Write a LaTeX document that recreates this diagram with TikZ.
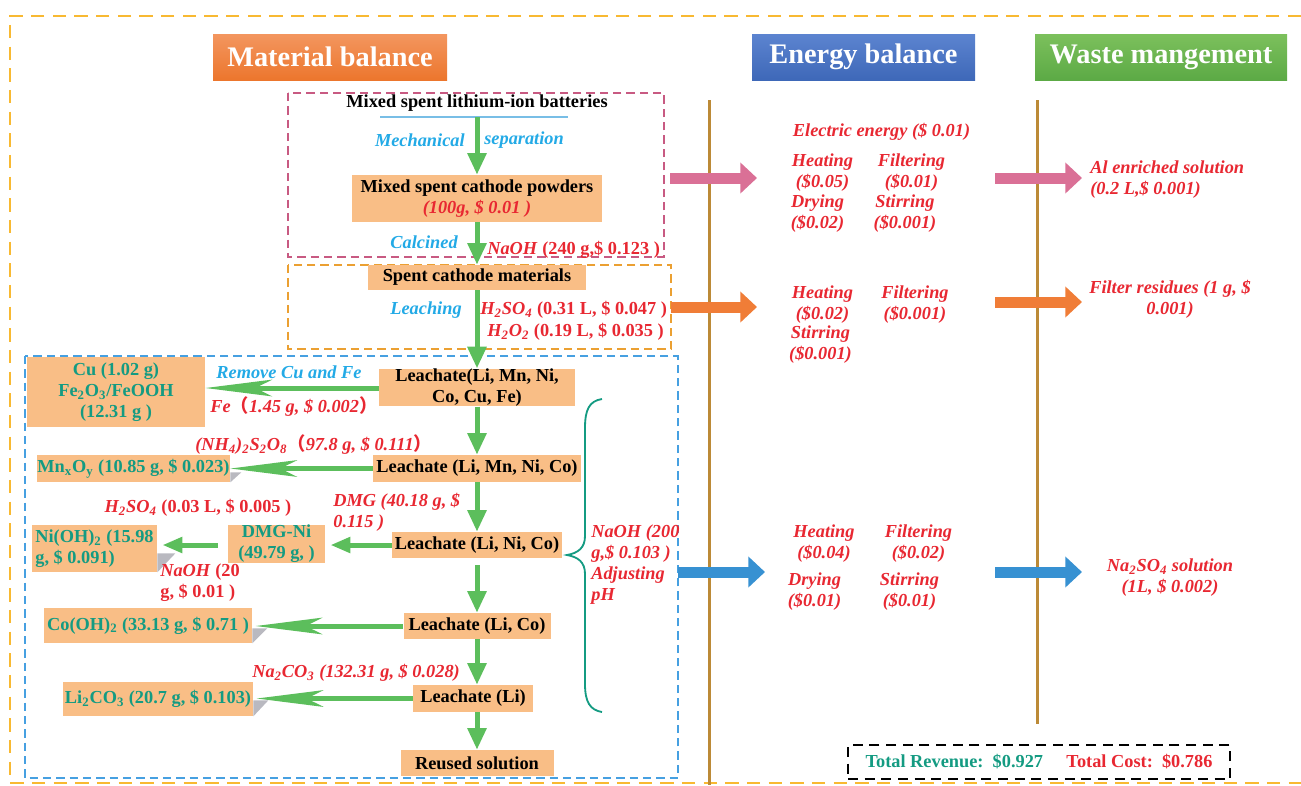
\documentclass[tikz,border=0pt]{standalone}
\usepackage{fontspec}
\setmainfont{Liberation Serif}
\newfontfamily\cjk{Noto Sans CJK SC}
\usetikzlibrary{arrows.meta}
\definecolor{boxfill}{RGB}{249,190,134}
\definecolor{tealtxt}{RGB}{20,155,130}
\definecolor{redtxt}{RGB}{232,40,50}
\definecolor{bluetxt}{RGB}{35,170,230}
\definecolor{greenarr}{RGB}{92,190,92}
\definecolor{pinkfr}{RGB}{200,90,130}
\definecolor{pinkarr}{RGB}{218,112,150}
\definecolor{orfr}{RGB}{235,160,50}
\definecolor{orarr}{RGB}{240,125,55}
\definecolor{blfr}{RGB}{70,160,225}
\definecolor{blarr}{RGB}{55,145,210}
\definecolor{outerfr}{RGB}{248,185,50}
\definecolor{sepcol}{RGB}{188,138,55}
\definecolor{shadowgray}{RGB}{185,185,192}
\definecolor{ulblue}{RGB}{120,190,230}
\newcommand{\chsub}[1]{\textsubscript{#1}}
\newcommand{\lp}{{\cjk （}}
\newcommand{\rp}{{\cjk ）}}
\tikzset{
  >=latex,
  blk/.style={fill=boxfill,inner sep=0pt,align=center},
  res/.style={fill=boxfill,text=tealtxt,inner sep=0pt,align=center},
  redlbl/.style={text=redtxt,inner sep=0pt,align=center},
  reditl/.style={text=redtxt,font=\itshape,inner sep=0pt,align=center},
  bluelbl/.style={text=bluetxt,font=\itshape,inner sep=0pt},
  flow/.style={draw=greenarr,line width=3pt,-{Triangle[length=13pt,width=11pt]}},
  side/.style={draw=greenarr,line width=3pt,-{Stealth[length=40pt,width=10pt,inset=10pt]}},
  short/.style={draw=greenarr,line width=3pt,-{Triangle[length=12pt,width=9pt]}},
  blockarr/.style={line width=6.6pt,-{Triangle[length=10pt,width=18pt]}},
  frame/.style={line width=1pt,dash pattern=on 5pt off 3pt},
  title/.style={text=white,inner sep=0pt,font=\fontsize{17}{20}\selectfont,minimum height=27.6pt}
}

\begin{document}
\fontsize{11}{12.6}\selectfont\bfseries
\begin{tikzpicture}[x=0.6pt,y=-0.6pt]
\useasboundingbox (0,0) rectangle (1301,785);
\draw[outerfr,line width=1.4pt,dash pattern=on 8pt off 5pt] (1301,16) -- (10,16) -- (10,783) -- (1301,783);
\draw[frame,pinkfr] (288,93) rectangle (664,257);
\draw[frame,orfr] (288,265) rectangle (671,349);
\draw[frame,blfr] (25,356) rectangle (678,778);
\draw[sepcol,line width=1.8pt] (709,100) -- (709,785);
\draw[sepcol,line width=1.8pt] (1037,100) -- (1037,724);

% headings
\node[title,minimum width=140.4pt,top color={rgb,255:red,243;green,150;blue,95},bottom color={rgb,255:red,236;green,118;blue,45}] (tmat) at (330,57) {Material balance};
\node[title,minimum width=133.8pt,top color={rgb,255:red,92;green,132;blue,208},bottom color={rgb,255:red,62;green,104;blue,184}] (tene) at (863.5,57) {Energy balance};
\node[title,minimum width=151.2pt,top color={rgb,255:red,124;green,192;blue,92},bottom color={rgb,255:red,92;green,170;blue,69}] (twaste) at (1161,57) {Waste mangement};

% pretreatment
\node[inner sep=0pt] (batt) at (477,103) {Mixed spent lithium-ion batteries};
\draw[ulblue,line width=0.8pt] (380,117) -- (568,117);
\coordinate (battline) at (477,117);
\node[blk,minimum width=150pt,minimum height=28.2pt] (powders) at (477,198.5) {Mixed spent cathode powders\\{\color{redtxt}\itshape (100g, \$ 0.01 )}};
\draw[flow] (battline) -- (powders);
\node[bluelbl,anchor=east] (mech) at (465,140) {Mechanical};
\node[bluelbl,anchor=west] (separ) at (484,140) {separation};

\node[blk,minimum width=130.8pt,minimum height=15pt] (spentcm) at (477,277.5) {Spent cathode materials};
\draw[flow] (powders) -- (spentcm);
\node[bluelbl,anchor=east] (calc) at (458,242) {Calcined};
\node[redlbl,anchor=west] (naoha) at (487,250) {\textit{NaOH} (240 g,\$ 0.123 )};

\node[bluelbl,anchor=east] (leaching) at (462,310) {Leaching};
\node[redlbl,anchor=west] (acida) at (480,310) {\textit{H\chsub{2}SO\chsub{4}} (0.31 L, \$ 0.047 )};
\node[redlbl,anchor=west] (perox) at (487,332) {\textit{H\chsub{2}O\chsub{2}} (0.19 L, \$ 0.035 )};

% separation chain
\node[blk,minimum width=117.6pt,minimum height=19.8pt] (leacha) at (477,387.5) {Leachate(Li, Mn, Ni,\\Co, Cu, Fe)};
\node[blk,minimum width=124.8pt,minimum height=16.2pt] (leachb) at (477,468.5) {Leachate (Li, Mn, Ni, Co)};
\node[blk,minimum width=102pt,minimum height=15.6pt] (leachc) at (477,545) {Leachate (Li, Ni, Co)};
\node[blk,minimum width=88.2pt,minimum height=15.6pt] (leachd) at (477,626) {Leachate (Li, Co)};
\node[blk,minimum width=72pt,minimum height=16.2pt] (leache) at (473,698.5) {Leachate (Li)};
\node[blk,minimum width=91.8pt,minimum height=15.6pt] (reused) at (477,763) {Reused solution};
\draw[flow] (spentcm) -- (leacha);
\draw[flow] (leacha) -- (leachb);
\draw[flow] (leachb) -- (leachc);
\draw[flow,shorten <=4pt] (leachc) -- (leachd);
\draw[flow] (leachd.south) -- (leachd.south |- leache.north);
\draw[flow] (leachd.south |- leache.south) -- (leachd.south |- reused.north);

\node[res,minimum width=106.8pt,minimum height=42pt] (cufe) at (116,392) {Cu (1.02 g)\\Fe\chsub{2}O\chsub{3}/FeOOH\\(12.31 g )};
\node[res,minimum width=115.8pt,minimum height=16.2pt] (mnxoy) at (133.5,468.5) {Mn\chsub{x}O\chsub{y} (10.85 g, \$ 0.023)};
\node[res,minimum width=58.2pt,minimum height=22.8pt] (dmgni) at (276.5,544) {DMG-Ni\\(49.79 g, )};
\node[res,align=left,minimum width=75pt,minimum height=28.2pt] (nioh) at (94.5,548.5) {Ni(OH)\chsub{2} (15.98\\g, \$ 0.091)};
\node[res,minimum width=124.8pt,minimum height=21pt] (cooh) at (148,625.5) {Co(OH)\chsub{2} (33.13 g, \$ 0.71 )};
\node[res,minimum width=114pt,minimum height=20.4pt] (lico) at (158,699) {Li\chsub{2}CO\chsub{3} (20.7 g, \$ 0.103)};
\fill[shadowgray] (mnxoy.south east) -- ++(0,-10) -- ++(11,0) -- cycle;
\fill[shadowgray] (nioh.south east) -- ++(0,-19) -- ++(18,0) -- cycle;
\fill[shadowgray] (cooh.south east) -- ++(0,-15) -- ++(15,0) -- cycle;
\fill[shadowgray] (lico.south east) -- ++(0,-16) -- ++(15,0) -- cycle;

\draw[side] (leacha.west |- 0,388) -- (cufe.east |- 0,388);
\draw[side] (leachb.west) -- (leachb.west -| mnxoy.east);
\draw[short,shorten >=3pt] (leachc.west) -- (leachc.west -| dmgni.east);
\draw[short,shorten <=6pt,shorten >=3pt] (dmgni.west |- leachc.west) -- (nioh.east |- leachc.west);
\draw[side,shorten >=2pt] (leachd.west) -- (leachd.west -| cooh.east);
\draw[side,shorten >=2pt] (leache.west) -- (leache.west -| lico.east);

\node[bluelbl] (rmv) at (289,372) {Remove Cu and Fe};
\node[reditl,anchor=west] (fe) at (210,407) {Fe\lp 1.45 g, \$ 0.002\rp};
\node[reditl,anchor=west] (persulf) at (195,445) {(NH\chsub{4})\chsub{2}S\chsub{2}O\chsub{8}\lp 97.8 g, \$ 0.111\rp};
\node[reditl,align=left,anchor=west] (dmg) at (333,512) {DMG (40.18 g, \$\\0.115 )};
\node[redlbl] (acidb) at (198,508) {\textit{H\chsub{2}SO\chsub{4}} (0.03 L, \$ 0.005 )};
\node[redlbl,align=left,anchor=west] (naohb) at (160,583) {\textit{NaOH} (20\\g, \$ 0.01 )};
\node[reditl,anchor=west] (carb) at (252,673) {Na\chsub{2}CO\chsub{3} (132.31 g, \$ 0.028)};

% pH brace
\draw[tealtxt,line width=1.1pt] (602,399) .. controls (589,401) and (585,410) .. (585,428) -- (585,536) .. controls (585,548) and (578,553) .. (567,555) .. controls (578,557) and (585,562) .. (585,574) -- (585,684) .. controls (585,702) and (590,710) .. (602,712);
\node[reditl,align=left,anchor=west] (naohc) at (591,565) {NaOH (200\\g,\$ 0.103 )\\Adjusting\\pH};

% energy balance
\coordinate (pinka) at (670,178);
\coordinate (pinkb) at (757,178);
\coordinate (pinkc) at (995,178);
\coordinate (pinkd) at (1082,178);
\coordinate (ora) at (671,307);
\coordinate (orb) at (757,307);
\coordinate (orc) at (995,302);
\coordinate (ord) at (1082,302);
\coordinate (bla) at (678,572);
\coordinate (blb) at (765,572);
\coordinate (blc) at (995,572);
\coordinate (bld) at (1082,572);
\draw[blockarr,pinkarr] (pinka) -- (pinkb);
\draw[blockarr,pinkarr] (pinkc) -- (pinkd);
\draw[blockarr,orarr] (ora) -- (orb);
\draw[blockarr,orarr] (orc) -- (ord);
\draw[blockarr,blarr] (bla) -- (blb);
\draw[blockarr,blarr] (blc) -- (bld);

\node[reditl] (elec) at (881.5,132) {Electric energy (\$ 0.01)};
\node[reditl] (heata) at (822.5,172.5) {Heating\\(\$0.05)};
\node[reditl] (filta) at (911.5,172.5) {Filtering\\(\$0.01)};
\node[reditl] (drya) at (817.5,213.5) {Drying\\(\$0.02)};
\node[reditl] (stira) at (905,213.5) {Stirring\\(\$0.001)};
\node[reditl] (heatb) at (822.5,304.5) {Heating\\(\$0.02)};
\node[reditl] (filtb) at (915,304.5) {Filtering\\(\$0.001)};
\node[reditl] (stirb) at (820.5,344.5) {Stirring\\(\$0.001)};
\node[reditl] (heatc) at (824,543.5) {Heating\\(\$0.04)};
\node[reditl] (filtc) at (918.5,543.5) {Filtering\\(\$0.02)};
\node[reditl] (dryc) at (814.5,591.5) {Drying\\(\$0.01)};
\node[reditl] (stirc) at (909.5,591.5) {Stirring\\(\$0.01)};

% waste
\node[reditl,align=left,anchor=west] (alsol) at (1090,179.5) {Al enriched solution\\(0.2 L,\$ 0.001)};
\node[reditl] (resid) at (1170,299) {Filter residues (1 g, \$\\0.001)};
\node[reditl] (nasol) at (1170,577.5) {Na\chsub{2}SO\chsub{4} solution\\(1L, \$ 0.002)};

\node[draw,line width=1.2pt,dash pattern=on 6pt off 4pt,minimum width=229.2pt,minimum height=20.4pt] (total) at (1039,762) {\color{tealtxt}Total Revenue:\ \ \$0.927\hspace{14pt}\color{redtxt}Total Cost:\ \ \$0.786};
\end{tikzpicture}
\end{document}
